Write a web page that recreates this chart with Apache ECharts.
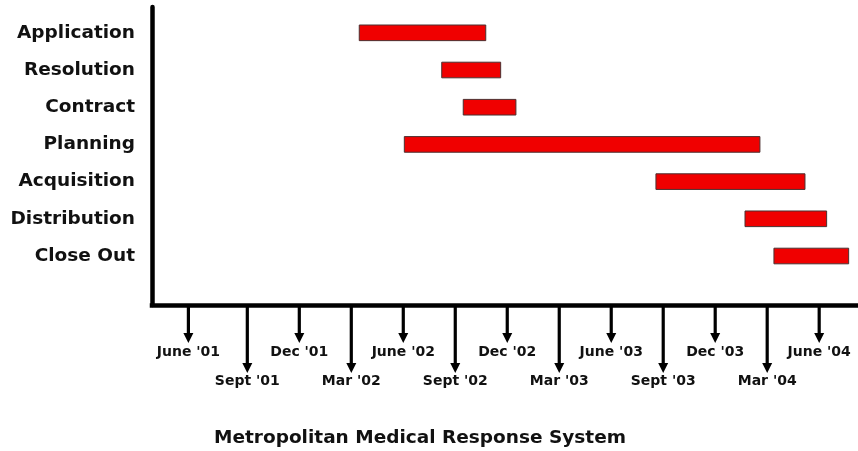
<!DOCTYPE html>
<html>
<head>
<meta charset="utf-8">
<script src="https://cdn.jsdelivr.net/npm/echarts@6/dist/echarts.min.js"></script>
<style>
  html, body { margin: 0; padding: 0; background: #fff; }
  #chart { width: 858px; height: 451px; }
</style>
</head>
<body>
<div id="chart"></div>
<script>
// Tasks (top to bottom)
const tasks = ['Application', 'Resolution', 'Contract', 'Planning', 'Acquisition', 'Distribution', 'Close Out'];
// Start / end of each task, in months since Jan 2001
const startMonth = [14.46, 19.22, 20.46, 17.06, 31.58, 36.72, 38.39];
const endMonth   = [21.76, 22.62, 23.50, 37.58, 40.18, 41.43, 42.70];
// Tick marks (months since Jan 2001) and their labels
const tickMonths = [4.6, 8, 11, 14, 17, 20, 23, 26, 29, 32, 35, 38, 41];
const tickLabels = ["June '01", "Sept '01", "Dec '01", "Mar '02", "June '02", "Sept '02", "Dec '02",
                    "Mar '03", "June '03", "Sept '03", "Dec '03", "Mar '04", "June '04"];
const chartTitle = 'Metropolitan Medical Response System';

const X_MIN = 2.5, X_MAX = 43.24;
const Y_MIN = -0.694, Y_MAX = 7.317;
const FONT = 'DejaVu Sans';

const upperTicks = tickMonths.filter((m, i) => i % 2 === 0);
const lowerTicks = tickMonths.filter((m, i) => i % 2 === 1);
function tickLabelOf(v) {
  let best = 0;
  tickMonths.forEach((m, i) => { if (Math.abs(m - v) < Math.abs(tickMonths[best] - v)) best = i; });
  return tickLabels[best];
}

const chart = echarts.init(document.getElementById('chart'), null, { renderer: 'canvas' });

const option = {
  animation: false,
  backgroundColor: '#ffffff',
  grid: { left: 152, right: 0, top: 7, bottom: 146, containLabel: false },
  xAxis: [
    {
      type: 'value', min: X_MIN, max: X_MAX, position: 'bottom',
      axisLine: { show: true, onZero: false, lineStyle: { color: '#000', width: 4.5, cap: 'square' } },
      axisTick: { show: false },
      splitLine: { show: false },
      axisLabel: {
        customValues: upperTicks, formatter: v => tickLabelOf(v),
        margin: 40, color: '#111', fontFamily: FONT, fontWeight: 'bold', fontSize: 14
      }
    },
    {
      type: 'value', min: X_MIN, max: X_MAX, position: 'bottom',
      axisLine: { show: false, onZero: false },
      axisTick: { show: false },
      splitLine: { show: false },
      axisLabel: {
        customValues: lowerTicks, formatter: v => tickLabelOf(v),
        margin: 69, color: '#111', fontFamily: FONT, fontWeight: 'bold', fontSize: 14
      }
    }
  ],
  yAxis: {
    type: 'value', inverse: true, min: Y_MIN, max: Y_MAX,
    axisLine: { show: true, onZero: false, lineStyle: { color: '#000', width: 4.5, cap: 'round' } },
    axisTick: { show: false },
    splitLine: { show: false },
    axisLabel: {
      customValues: tasks.map((t, i) => i),
      formatter: v => tasks[Math.round(v)] || '',
      margin: 17, color: '#111', fontFamily: FONT, fontWeight: 'bold', fontSize: 18.5,
      padding: [0, 0, 8, 0]
    }
  },
  graphic: [{
    type: 'text', x: 420, y: 438,
    style: {
      text: chartTitle, textAlign: 'center', textVerticalAlign: 'middle',
      font: 'bold 18.5px "DejaVu Sans"', fill: '#111'
    }
  }],
  series: [
    {
      type: 'custom',
      name: 'tasks',
      xAxisIndex: 0,
      data: tasks.map((t, i) => [i, startMonth[i], endMonth[i]]),
      encode: { x: [1, 2], y: 0 },
      renderItem: function (params, api) {
        const s = api.coord([api.value(1), api.value(0)]);
        const e = api.coord([api.value(2), api.value(0)]);
        const h = api.size([0, 1])[1] * 0.42;
        return {
          type: 'rect',
          shape: { x: s[0], y: s[1] - h / 2, width: e[0] - s[0], height: h },
          style: { fill: '#f00000', stroke: '#4a3030', lineWidth: 1 }
        };
      }
    },
    {
      type: 'custom',
      name: 'ticks',
      xAxisIndex: 0,
      clip: false,
      silent: true,
      data: tickMonths.map((m, i) => [m, i % 2]),
      encode: { x: 0 },
      renderItem: function (params, api) {
        const base = api.coord([api.value(0), Y_MAX]);
        const x = base[0];
        const len = api.value(1) ? 68 : 38;
        const tip = base[1] + len;
        return {
          type: 'group',
          children: [
            { type: 'line', shape: { x1: x, y1: base[1], x2: x, y2: tip - 8 },
              style: { stroke: '#000', lineWidth: 3.2 } },
            { type: 'polygon', shape: { points: [[x - 5, tip - 10], [x + 5, tip - 10], [x, tip]] },
              style: { fill: '#000' } }
          ]
        };
      }
    }
  ]
};

chart.setOption(option);
</script>
</body>
</html>
